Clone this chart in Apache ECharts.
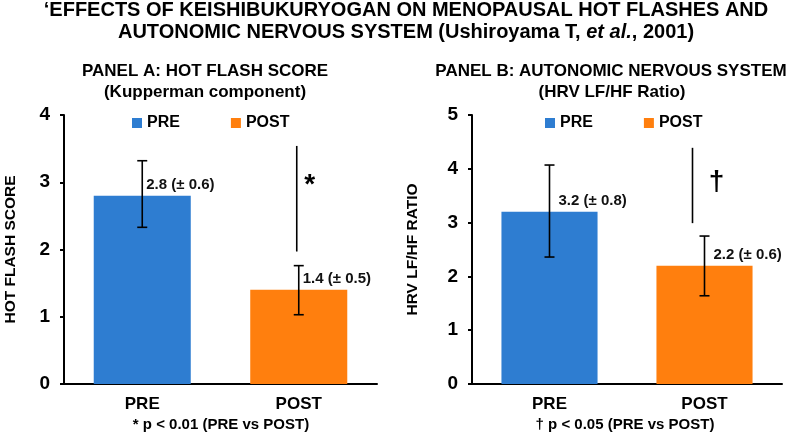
<!DOCTYPE html>
<html>
<head>
<meta charset="utf-8">
<title>Keishibukuryogan</title>
<script src="https://cdn.jsdelivr.net/npm/echarts@6/dist/echarts.min.js"></script>
<style>
  * { margin: 0; padding: 0; }
  body { background: #fff; }
  #main { width: 800px; height: 436px; }
</style>
</head>
<body>
<div id="main"></div>
<script type="text/javascript">
// data
var categories = ['PRE', 'POST'];

var hotFlashMean = [2.8, 1.4];
var hotFlashSd = [0.6, 0.5];          // as printed in the labels
var hotFlashErrLow = [2.33, 1.03];    // whiskers as drawn
var hotFlashErrHigh = [3.32, 1.76];

var hrvMean = [3.2, 2.2];
var hrvSd = [0.8, 0.6];
var hrvErrLow = [2.36, 1.64];
var hrvErrHigh = [4.07, 2.75];

// significance line on POST: [top, bottom, mark level]
var sigA = [3.54, 1.97, 2.96];
var sigB = [4.39, 2.99, 3.75];
var sigMarks = ['*', '\u2020'];

var yMax = [4, 5];
var yNames = ['HOT FLASH SCORE', 'HRV LF/HF RATIO'];

var font = "'Liberation Sans', Arial, sans-serif";
var blue = '#2E7DD1';
var orange = '#FF7F0E';

var myChart = echarts.init(document.getElementById('main'));

function errorBars(low, high) {
    return low.map(function (v, i) { return [i, v, high[i]]; });
}

function renderError(params, api) {
    var top = api.coord([api.value(0), api.value(2)]);
    var bot = api.coord([api.value(0), api.value(1)]);
    var cap = 5;
    var st = { stroke: '#000', lineWidth: 1.6 };
    return {
        type: 'group',
        children: [
            { type: 'line', shape: { x1: top[0], y1: top[1], x2: bot[0], y2: bot[1] }, style: st },
            { type: 'line', shape: { x1: top[0] - cap, y1: top[1], x2: top[0] + cap, y2: top[1] }, style: st },
            { type: 'line', shape: { x1: bot[0] - cap, y1: bot[1], x2: bot[0] + cap, y2: bot[1] }, style: st }
        ]
    };
}

function sigRenderer(mark, dx, markDx) {
    return function (params, api) {
        var top = api.coord([api.value(0), api.value(1)]);
        var bot = api.coord([api.value(0), api.value(2)]);
        var m = api.coord([api.value(0), api.value(3)]);
        return {
            type: 'group',
            children: [
                { type: 'line', shape: { x1: top[0] + dx, y1: top[1], x2: bot[0] + dx, y2: bot[1] },
                  style: { stroke: '#000', lineWidth: 1.6 } },
                { type: 'text', x: m[0] + dx + markDx, y: m[1],
                  style: { text: mark, font: 'bold 28px ' + font, fill: '#000', align: 'center', verticalAlign: 'middle' } }
            ]
        };
    };
}

function barSeries(name, idx, values, sds, gi, color, dx) {
    var data = categories.map(function (c, i) { return i === idx ? values[i] : '-'; });
    return {
        name: name,
        type: 'bar',
        stack: 'p' + gi,
        xAxisIndex: gi,
        yAxisIndex: gi,
        barWidth: '62%',
        data: data,
        itemStyle: { color: color },
        label: {
            show: true,
            position: ['50%', -11],
            offset: [dx, 0],
            align: 'left',
            verticalAlign: 'middle',
            color: '#111',
            fontFamily: font,
            fontWeight: 'bold',
            fontSize: 15,
            formatter: function (p) {
                return values[p.dataIndex].toFixed(1) + ' (\u00b1 ' + sds[p.dataIndex].toFixed(1) + ')';
            }
        }
    };
}

function xAxisFor(gi) {
    return {
        type: 'category', gridIndex: gi, data: categories,
        axisLine: { lineStyle: { color: '#000', width: 2 } },
        axisTick: { show: false },
        axisLabel: { color: '#000', fontFamily: font, fontWeight: 'bold', fontSize: 17, margin: 12 }
    };
}

function yAxisFor(gi, gap) {
    return {
        type: 'value', gridIndex: gi, min: 0, max: yMax[gi], interval: 1,
        name: yNames[gi], nameLocation: 'middle', nameGap: gap,
        nameTextStyle: { color: '#000', fontFamily: font, fontWeight: 'bold', fontSize: 15.5 },
        axisLine: { show: true, lineStyle: { color: '#000', width: 2 } },
        axisTick: { show: true, length: 4, lineStyle: { color: '#000', width: 2 } },
        splitLine: { show: false },
        axisLabel: { color: '#000', fontFamily: font, fontWeight: 'bold', fontSize: 19, margin: 14 }
    };
}

function legendFor(left) {
    return {
        left: left, top: 115, padding: 0,
        icon: 'rect', itemWidth: 10, itemHeight: 10, itemGap: 51,
        data: ['PRE', 'POST'],
        textStyle: { color: '#000', fontFamily: font, fontWeight: 'bold', fontSize: 16 }
    };
}

function txt(x, y, s, size, style) {
    return {
        type: 'text', x: x, y: y,
        style: { text: s, font: (style || 'bold') + ' ' + size + 'px ' + font, fill: '#000',
                 align: 'center', verticalAlign: 'middle' }
    };
}

var option = {
    backgroundColor: '#fff',
    animation: false,
    grid: [
        { left: 64, top: 115, width: 313, height: 269 },
        { left: 472, top: 115, width: 310, height: 269 }
    ],
    legend: [legendFor(132), legendFor(545)],
    xAxis: [xAxisFor(0), xAxisFor(1)],
    yAxis: [yAxisFor(0, 45), yAxisFor(1, 51)],
    graphic: [
        txt(406, 10, '\u2018EFFECTS OF KEISHIBUKURYOGAN ON MENOPAUSAL HOT FLASHES AND', 20),
        {
            type: 'text', x: 406, y: 32,
            style: {
                text: '{n|AUTONOMIC NERVOUS SYSTEM (Ushiroyama T, }{i|et al.}{n|, 2001)}',
                align: 'center', verticalAlign: 'middle',
                rich: {
                    n: { font: 'bold 20px ' + font, fill: '#000' },
                    i: { font: 'italic bold 20px ' + font, fill: '#000' }
                }
            }
        },
        txt(205, 71, 'PANEL A: HOT FLASH SCORE', 17),
        txt(205, 92, '(Kupperman component)', 17),
        txt(611, 71, 'PANEL B: AUTONOMIC NERVOUS SYSTEM', 17),
        txt(612, 92, '(HRV LF/HF Ratio)', 17),
        txt(221, 425, '* p < 0.01 (PRE vs POST)', 15),
        txt(625, 425, '\u2020 p < 0.05 (PRE vs POST)', 15)
    ],
    series: [
        barSeries('PRE', 0, hotFlashMean, hotFlashSd, 0, blue, 4),
        barSeries('POST', 1, hotFlashMean, hotFlashSd, 0, orange, 4),
        barSeries('PRE', 0, hrvMean, hrvSd, 1, blue, 9),
        barSeries('POST', 1, hrvMean, hrvSd, 1, orange, 9),
        {
            type: 'custom', xAxisIndex: 0, yAxisIndex: 0, z: 5,
            renderItem: renderError, data: errorBars(hotFlashErrLow, hotFlashErrHigh)
        },
        {
            type: 'custom', xAxisIndex: 1, yAxisIndex: 1, z: 5,
            renderItem: renderError, data: errorBars(hrvErrLow, hrvErrHigh)
        },
        {
            type: 'custom', xAxisIndex: 0, yAxisIndex: 0, z: 5,
            renderItem: sigRenderer(sigMarks[0], -2, 13), data: [[1, sigA[0], sigA[1], sigA[2]]]
        },
        {
            type: 'custom', xAxisIndex: 1, yAxisIndex: 1, z: 5,
            renderItem: sigRenderer(sigMarks[1], -12, 24), data: [[1, sigB[0], sigB[1], sigB[2]]]
        }
    ]
};

myChart.setOption(option);
</script>
</body>
</html>
